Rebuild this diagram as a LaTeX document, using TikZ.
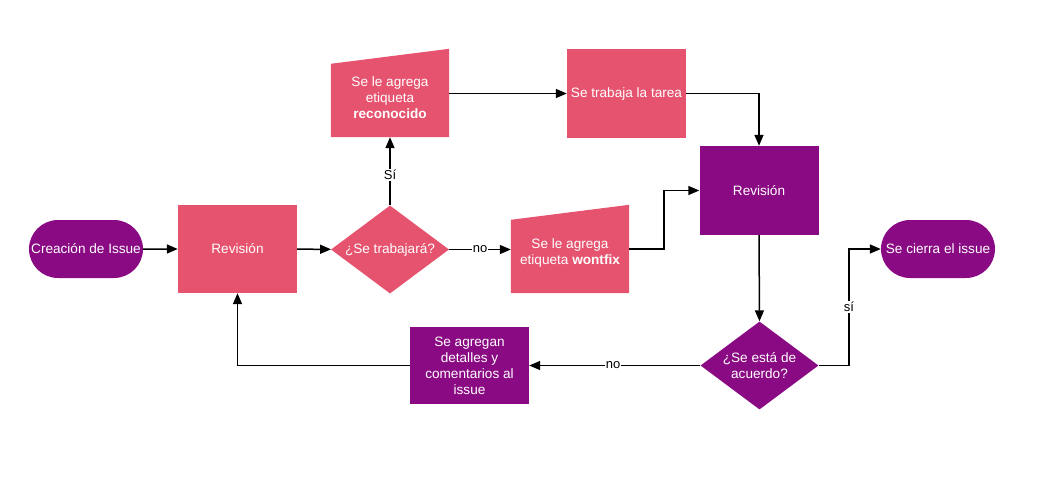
\documentclass[tikz,border=0pt]{standalone}
\usepackage{fontspec}
\setmainfont{Liberation Sans}
\usetikzlibrary{arrows.meta,shapes.geometric,shapes.misc,calc}
\definecolor{rosa}{HTML}{E6536F}
\definecolor{morado}{HTML}{8A0A84}
\tikzset{
  base/.style={text=white, font=\fontsize{13.6}{16}\selectfont, align=center, inner sep=2pt},
  rosabox/.style={base, rectangle, fill=rosa, minimum width=119pt, minimum height=88pt},
  moradobox/.style={base, rectangle, fill=morado, minimum width=119pt},
  terminal/.style={base, rounded rectangle, fill=morado, minimum width=118pt, minimum height=58pt},
  decision/.style={base, diamond, aspect=1.34, inner sep=0pt, minimum width=118pt, minimum height=88pt},
  manual/.style={base, rectangle, minimum width=118pt, minimum height=88pt},
  flecha/.style={line width=1.5pt, -{Triangle[length=11pt,width=9pt]}},
  etiqueta/.style={fill=white, text=black, font=\fontsize{13}{15}\selectfont, inner sep=1pt}
}
\begin{document}
\begin{tikzpicture}[x=1pt,y=-1pt]
\useasboundingbox (0,0) rectangle (1051,492);

% nodes
\node[terminal] (inicio) at (86,249) {Creación de Issue};
\node[rosabox] (rev1) at (237.5,249) {Revisión};
\node[decision, fill=rosa] (trab) at (390,249.5) {¿Se trabajará?};
\node[manual] (recon) at (390,93) {};
\fill[rosa] (recon.south west) -- (recon.south east) -- (recon.north east) -- ([yshift=-15pt]recon.north west) -- cycle;
\node[base] (recontxt) at (390,98) {Se le agrega\\etiqueta\\\textbf{reconocido}};
\node[rosabox] (tarea) at (626.5,93.5) {Se trabaja la tarea};
\node[manual] (wont) at (570,249) {};
\fill[rosa] (wont.south west) -- (wont.south east) -- (wont.north east) -- ([yshift=-15pt]wont.north west) -- cycle;
\node[base] (wonttxt) at (570,253) {Se le agrega\\etiqueta \textbf{wontfix}};
\node[moradobox, minimum height=89pt] (rev2) at (759,190.5) {Revisión};
\node[terminal] (cierre) at (938,249) {Se cierra el issue};
\node[decision, fill=morado] (acuerdo) at (759.5,365.5) {¿Se está de\\acuerdo?};
\node[moradobox, minimum height=77pt] (detalles) at (469.5,365.5) {Se agregan\\detalles y\\comentarios al\\issue};

% connectors
\draw[flecha] (inicio) -- (rev1);
\draw[flecha] (rev1) -- (trab);
\draw[flecha] (trab) -- node[etiqueta, pos=0.5] {no} (wont.west |- trab);
\draw[flecha] (trab.north) -- node[etiqueta, pos=0.45] {Sí} (recon.south);
\draw[flecha] (recon.east |- tarea) -- (tarea);
\draw[flecha] (tarea.east) -| (rev2.north);
\coordinate (codo1) at (664,249);
\draw[flecha] (wont.east |- codo1) -- (codo1) |- (rev2.west);
\draw[flecha] (rev2.south) -- (acuerdo.north);
\coordinate (codo2) at (849,365.5);
\draw[flecha] (acuerdo.east) -- (codo2) |- node[etiqueta, pos=0.25] {sí} (cierre.west);
\draw[flecha] (acuerdo.west) -- node[etiqueta, pos=0.51] {no} (detalles.east);
\draw[flecha] (detalles.west) -| (rev1.south);
\end{tikzpicture}
\end{document}
